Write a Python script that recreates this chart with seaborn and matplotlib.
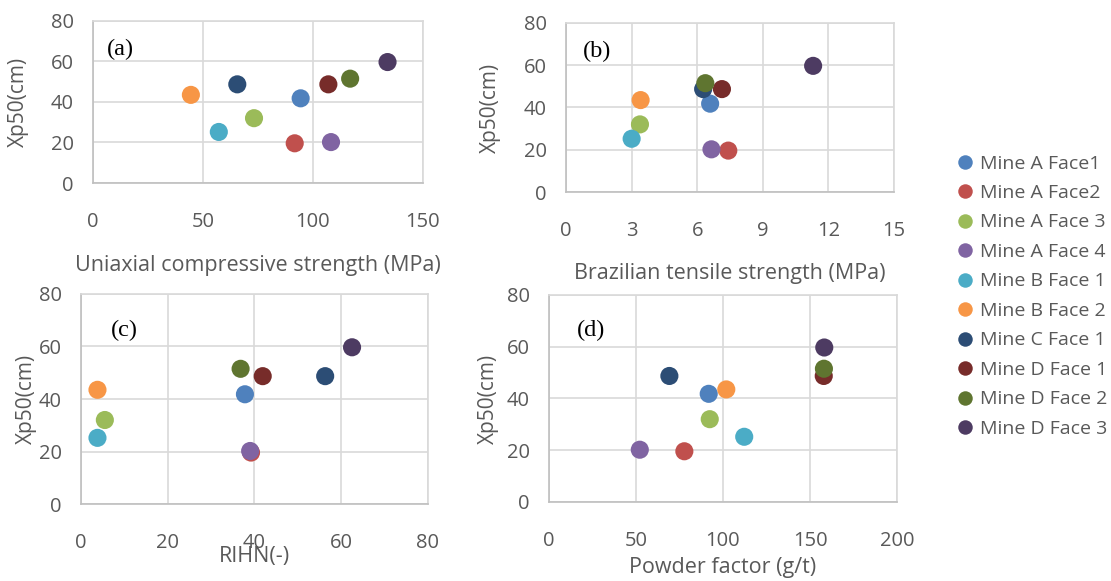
import numpy as np
import matplotlib.pyplot as plt
import pandas as pd
import seaborn as sns

# data
faces = ['Mine A Face1', 'Mine A Face2', 'Mine A Face 3', 'Mine A Face 4', 'Mine B Face 1',
         'Mine B Face 2', 'Mine C Face 1', 'Mine D Face 1', 'Mine D Face 2', 'Mine D Face 3']
colors = ['#4F81BD', '#C0504D', '#9BBB59', '#8064A2', '#4BACC6',
          '#F79646', '#2C4D75', '#772C2A', '#5F7530', '#4D3B62']
xp50 = [41.8, 19.6, 32.0, 20.2, 25.2, 43.5, 48.7, 48.7, 51.5, 59.7]
ucs = [94.4, 91.7, 73.2, 108.2, 57.2, 44.5, 65.6, 107.0, 116.9, 133.9]
bts = [6.59, 7.42, 3.38, 6.65, 3.0, 3.41, 6.27, 7.13, 6.37, 11.3]
rihn = [37.8, 39.2, 5.5, 39.0, 3.8, 3.8, 56.3, 41.9, 36.8, 62.5]
powder = [91.8, 77.8, 92.4, 52.2, 112.2, 101.9, 69.2, 157.9, 158.0, 158.2]

df = pd.DataFrame({'face': faces, 'xp50': xp50, 'ucs': ucs, 'bts': bts,
                   'rihn': rihn, 'powder': powder})

sns.set_style('white')
plt.rcParams['font.family'] = ['Open Sans', 'DejaVu Sans']
txt = '#595959'

fig = plt.figure(figsize=(11.11, 5.81), dpi=100)

# rect, column, xmax, xticks, xlabel, letter, xlabel y, ylabel x, letter pos
panels = [
    ([0.0837, 0.685, 0.297, 0.279], 'ucs', 150, [0, 50, 100, 150],
     'Uniaxial compressive strength (MPa)', '(a)', -0.445, -0.194, (0.082, 0.827)),
    ([0.5095, 0.6695, 0.2952, 0.291], 'bts', 15, [0, 3, 6, 9, 12, 15],
     'Brazilian tensile strength (MPa)', '(b)', -0.42, -0.198, (0.094, 0.83)),
    ([0.0729, 0.1325, 0.3123, 0.3615], 'rihn', 80, [0, 20, 40, 60, 80],
     'RIHN(-)', '(c)', -0.2, -0.127, (0.124, 0.824)),
    ([0.4941, 0.136, 0.3133, 0.3563], 'powder', 200, [0, 50, 100, 150, 200],
     'Powder factor (g/t)', '(d)', -0.265, -0.144, (0.12, 0.83)),
]

axes = []
for i, (rect, col, xmax, xt, xlab, letter, xly, ylx, lpos) in enumerate(panels):
    ax = fig.add_axes(rect)
    sns.scatterplot(data=df, x=col, y='xp50', hue='face', palette=colors, s=170,
                    linewidth=0, alpha=1, ax=ax, legend=(i == 0), zorder=3)
    ax.set_xlim(0, xmax)
    ax.set_ylim(0, 80)
    ax.set_xticks(xt)
    ax.set_yticks([0, 20, 40, 60, 80])
    ax.grid(True, color='#D9D9D9', lw=1.2)
    ax.set_axisbelow(True)
    for s in ax.spines.values():
        s.set_color('#D9D9D9')
        s.set_linewidth(1.2)
    ax.spines['left'].set_color('#BFBFBF')
    ax.spines['bottom'].set_color('#BFBFBF')
    ax.tick_params(axis='x', length=0, pad=21, labelsize=14.5, labelcolor=txt)
    ax.tick_params(axis='y', length=0, pad=14, labelsize=14.5, labelcolor=txt)
    ax.set_xlabel(xlab, fontsize=15.5, color=txt)
    ax.set_ylabel('Xp50(cm)', fontsize=15, color=txt)
    ax.xaxis.set_label_coords(0.5, xly)
    ax.yaxis.set_label_coords(ylx, 0.5)
    ax.text(lpos[0], lpos[1], letter, transform=ax.transAxes, ha='center', va='center',
            fontsize=17.5, family='Liberation Serif', color='black')
    axes.append(ax)

h, l = axes[0].get_legend_handles_labels()
axes[0].get_legend().remove()
fig.legend(h, l, loc='upper left', bbox_to_anchor=(0.862, 0.734), frameon=False,
           fontsize=14, labelcolor=txt, labelspacing=0.59, handlelength=0.8,
           handletextpad=0.35, borderpad=0, borderaxespad=0, markerscale=0.8)

fig.savefig('out.png', dpi=100)
